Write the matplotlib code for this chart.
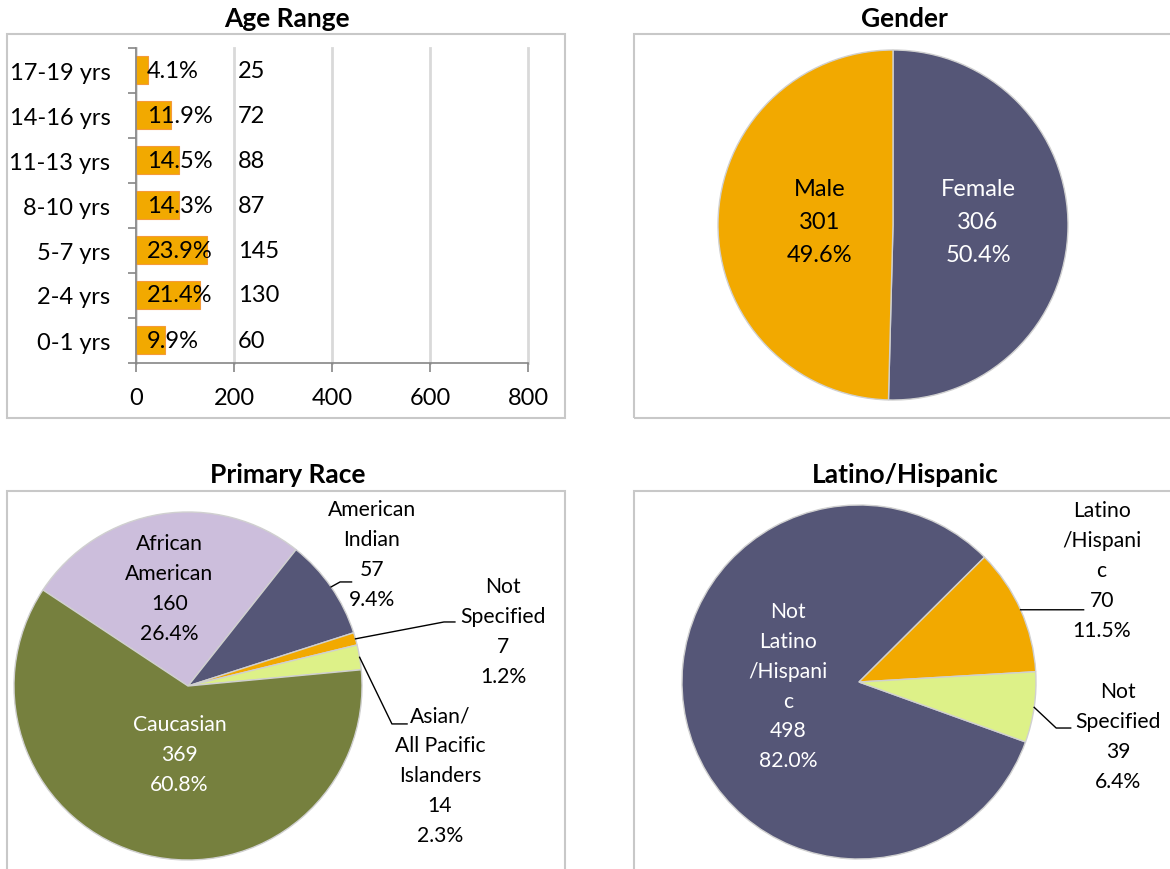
import numpy as np
import matplotlib
matplotlib.use('Agg')
import matplotlib.pyplot as plt
from matplotlib.patches import Rectangle

plt.rcParams['font.family'] = ['Lato', 'DejaVu Sans']

W, H = 1170, 870

# ---- data ----
age_groups = ['0-1 yrs', '2-4 yrs', '5-7 yrs', '8-10 yrs', '11-13 yrs', '14-16 yrs', '17-19 yrs']
age_counts = [60, 130, 145, 87, 88, 72, 25]

gender_labels = ['Female', 'Male']
gender_counts = [306, 301]

race_labels = ['African\nAmerican', 'American\nIndian', 'Not\nSpecified',
               'Asian/\nAll Pacific\nIslanders', 'Caucasian']
race_counts = [160, 57, 7, 14, 369]

latino_labels = ['Not\nLatino\n/Hispani\nc', 'Latino\n/Hispani\nc', 'Not\nSpecified']
latino_counts = [498, 70, 39]

ORANGE = '#F2A900'
SLATE = '#555677'
LAVENDER = '#CCBEDC'
OLIVE = '#76803E'
LIME = '#DDF188'
FRAME = '#C8C8C8'
AXIS = '#868686'

TOP_FS = 17
BOT_FS = 15.2

fig = plt.figure(figsize=(W / 100, H / 100), dpi=100)


def px_axes(x0, y0, x1, y1):
    return fig.add_axes([x0 / W, 1 - y1 / H, (x1 - x0) / W, (y1 - y0) / H])


def frame(x0, y0, x1, y1):
    fig.add_artist(Rectangle((x0 / W, 1 - y1 / H), (x1 - x0) / W, (y1 - y0) / H,
                             transform=fig.transFigure, fill=False, ec=FRAME, lw=1.5))


def title(x, y, s):
    fig.text(x / W, 1 - y / H, s, ha='center', va='baseline', fontsize=19, fontweight='bold')


def pct(c, counts):
    return f'{c / sum(counts) * 100:.1f}%'


frame(7, 35, 565, 419)
frame(634, 35, 1185, 419)
frame(7, 492, 565, 885)
frame(634, 492, 1185, 885)

title(287, 27, 'Age Range')
title(904, 26.7, 'Gender')
title(288, 483.3, 'Primary Race')
title(905, 483.3, 'Latino/Hispanic')

# ---- age range bar chart ----
ax = px_axes(136, 48.5, 528, 363.5)
y = np.arange(len(age_groups))
ax.barh(y, age_counts, height=0.62, color=ORANGE, edgecolor='#F59A3A', lw=0.8, zorder=3)
for yi, c in zip(y, age_counts):
    ax.text(22, yi, pct(c, age_counts), ha='left', va='center', fontsize=TOP_FS, zorder=4)
    ax.text(208, yi, str(c), ha='left', va='center', fontsize=TOP_FS, zorder=4)
ax.set_xlim(0, 800)
ax.set_ylim(-0.5, len(age_groups) - 0.5)
ax.set_xticks([0, 200, 400, 600, 800])
ax.set_yticks(y)
ax.set_yticklabels(age_groups)
ax.set_yticks(np.arange(len(age_groups) + 1) - 0.5, minor=True)
ax.grid(axis='x', color='#D9D9D9', lw=2, zorder=0)
for gl in ax.get_xgridlines():
    gl.set_clip_on(False)
for s in ['top', 'right']:
    ax.spines[s].set_visible(False)
for s in ['left', 'bottom']:
    ax.spines[s].set_color(AXIS)
    ax.spines[s].set_linewidth(1.2)
    ax.spines[s].set_zorder(5)
ax.tick_params(axis='x', length=6.5, width=1.2, color=AXIS, labelsize=TOP_FS, pad=11)
ax.tick_params(axis='y', which='major', length=0, labelsize=TOP_FS, pad=18.5)
ax.tick_params(axis='y', which='minor', length=6, width=1.2, color=AXIS)


# ---- pies ----
def pie_panel(cx, cy, r, counts, colors, startangle):
    pax = px_axes(cx - r, cy - r, cx + r, cy + r)
    wedges, _ = pax.pie(counts, colors=colors, startangle=startangle, counterclock=False,
                        radius=1, wedgeprops=dict(edgecolor='#D0D0D0', linewidth=1))
    pax.set_aspect('auto')
    pax.set_xlim(-1, 1)
    pax.set_ylim(-1, 1)
    pax.axis('off')
    return pax, wedges


def label(pax, x, y, name, c, counts, color, fs, ls):
    pax.text(x, y, f'{name}\n{c}\n{pct(c, counts)}', ha='center', va='center',
             multialignment='center', fontsize=fs, linespacing=ls, color=color, clip_on=False)


def leader(pax, wedge, pts):
    a = np.deg2rad((wedge.theta1 + wedge.theta2) / 2)
    xs = [np.cos(a)] + [p[0] for p in pts]
    ys = [np.sin(a)] + [p[1] for p in pts]
    pax.plot(xs, ys, color='black', lw=1, clip_on=False)


# gender
gax, gw = pie_panel(893, 226, 175, gender_counts, [SLATE, ORANGE], 90)
gpos = [(0.486, 0.02), (-0.417, 0.02)]
gcol = ['white', 'black']
for (x, yy), n, c, col in zip(gpos, gender_labels, gender_counts, gcol):
    label(gax, x, yy, n, c, gender_counts, col, TOP_FS, 1.72)

# primary race
rax, rw = pie_panel(188, 687, 174, race_counts, [LAVENDER, SLATE, ORANGE, LIME, OLIVE], 146.5)
rpos = [(-0.106, 0.563), (1.057, 0.759), (1.810, 0.316), (1.448, -0.511), (-0.049, -0.391)]
rcol = ['black', 'black', 'black', 'black', 'white']
for (x, yy), n, c, col in zip(rpos, race_labels, race_counts, rcol):
    label(rax, x, yy, n, c, race_counts, col, BOT_FS, 1.62)
leader(rax, rw[1], [(0.874, 0.598), (0.940, 0.598)])
leader(rax, rw[2], [(1.471, 0.368), (1.534, 0.368)])
leader(rax, rw[3], [(1.172, -0.218), (1.259, -0.218)])

# latino / hispanic
lax, lw_ = pie_panel(859, 683, 177, latino_counts, [SLATE, ORANGE, LIME], 340.2)
lpos = [(-0.40, -0.02), (1.371, 0.633), (1.463, -0.305)]
lcol = ['white', 'black', 'black']
for (x, yy), n, c, col in zip(lpos, latino_labels, latino_counts, lcol):
    label(lax, x, yy, n, c, latino_counts, col, BOT_FS, 1.62)
leader(lax, lw_[1], [(1.269, 0.408)])
leader(lax, lw_[2], [(1.114, -0.260), (1.196, -0.260)])

fig.savefig('out.png', dpi=100, facecolor='white')
